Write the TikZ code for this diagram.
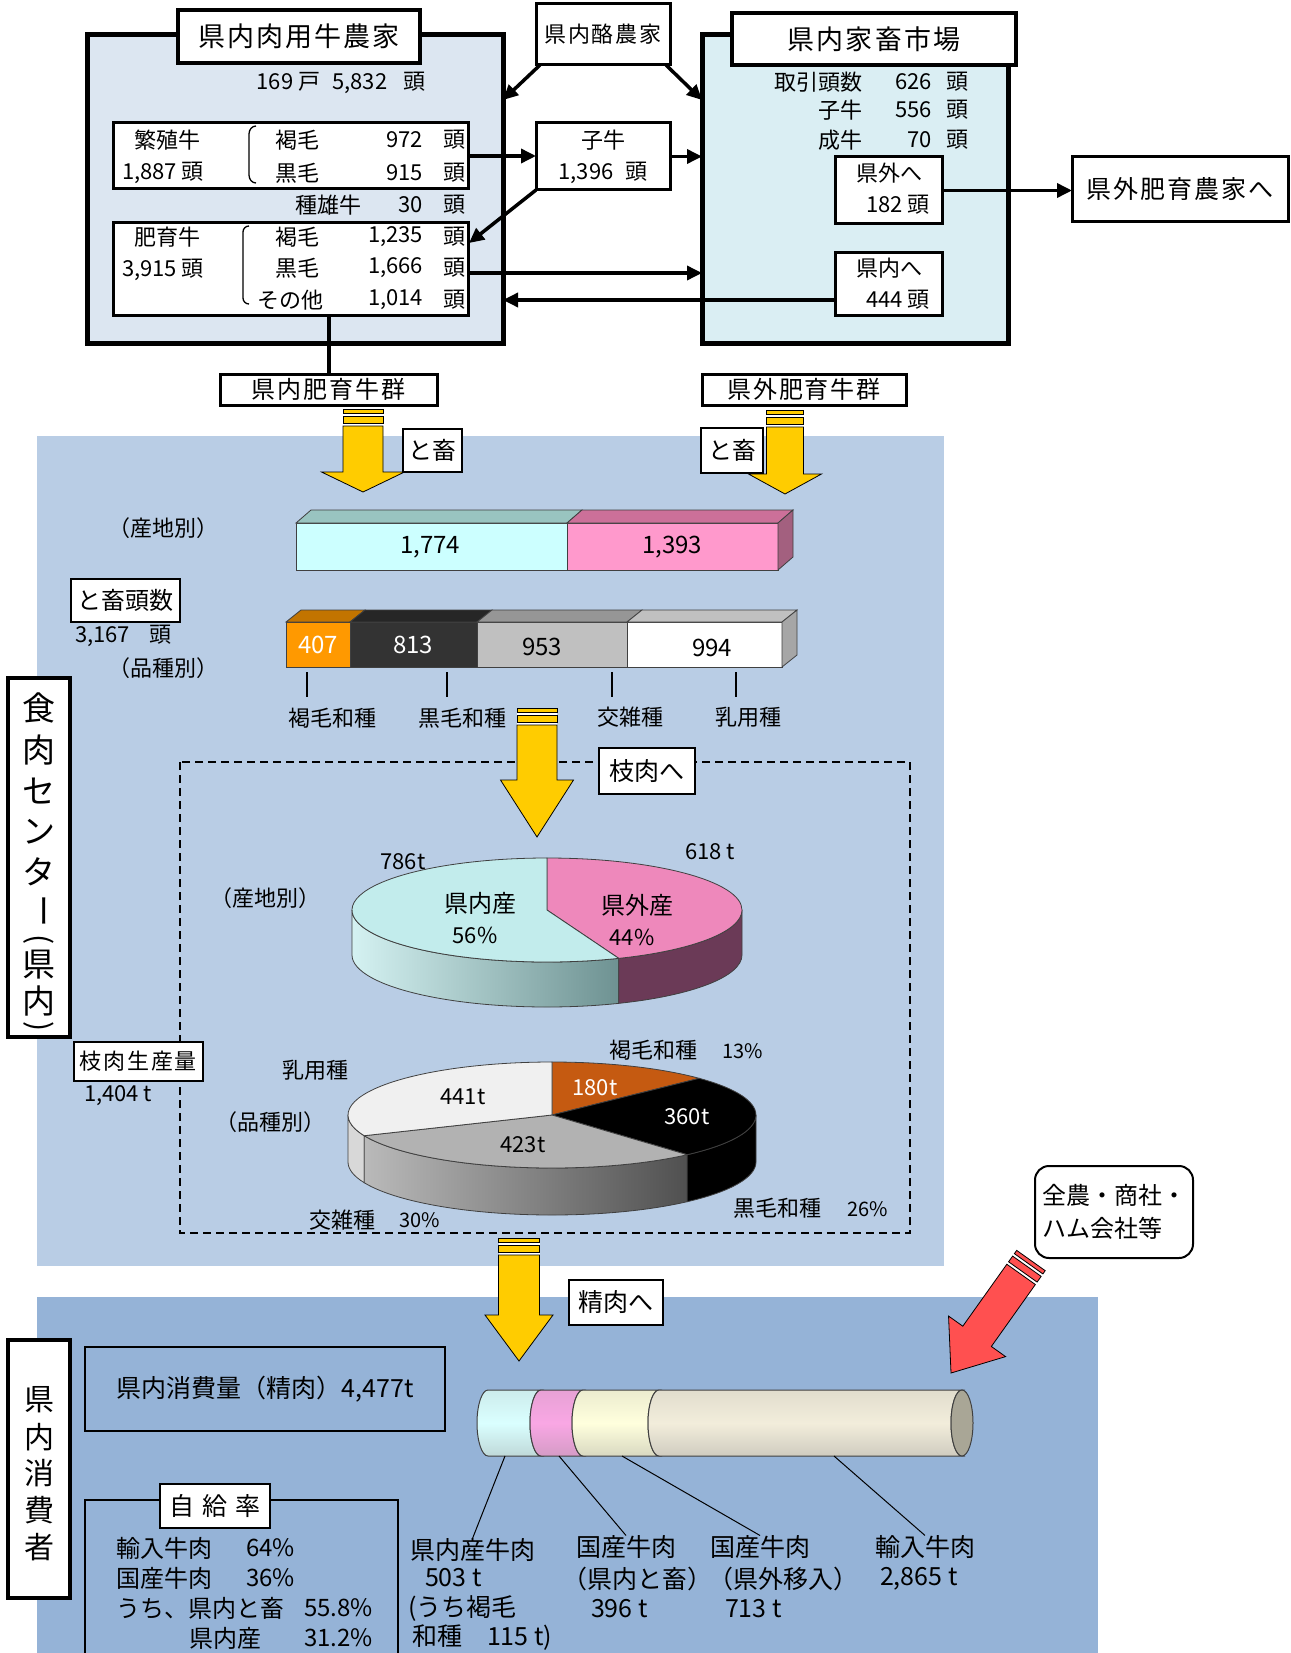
\documentclass[tikz,border=0pt]{standalone}
\usepackage{fontspec}
\setmainfont{Noto Sans CJK JP}
\newfontfamily\spaced{Noto Sans CJK JP}[LetterSpace=8]
\usepackage{graphicx}
\usetikzlibrary{arrows.meta}
\newcommand{\fs}[1]{\fontsize{#1}{#1}\selectfont}
\newcommand{\fatarrow}[5]{%
  \fill[white] ({-#2},{-#5-#3}) rectangle ({#2},{-#5-#3-17});
  \filldraw[fill=#1, draw=black, line width=0.8pt] (0,0) -- ({-#4},{-#5}) -- ({-#2},{-#5}) -- ({-#2},{-#5-#3}) -- ({#2},{-#5-#3}) -- ({#2},{-#5}) -- ({#4},{-#5}) -- cycle;
  \filldraw[fill=#1, draw=black, line width=0.8pt] ({-#2},{-#5-#3-3}) rectangle ({#2},{-#5-#3-10});
  \filldraw[fill=#1, draw=black, line width=0.8pt] ({-#2},{-#5-#3-13}) rectangle ({#2},{-#5-#3-17});
}
\definecolor{farmbg}{HTML}{DCE6F1}
\definecolor{mktbg}{HTML}{DAEEF3}
\definecolor{midbg}{HTML}{B9CDE5}
\definecolor{botbg}{HTML}{95B3D7}
\definecolor{yel}{HTML}{FFCC00}
\definecolor{redarr}{HTML}{FF5050}
\definecolor{edge}{HTML}{404040}
\definecolor{cyF}{HTML}{CCFFFF}
\definecolor{cyT}{HTML}{99C4C0}
\definecolor{pkF}{HTML}{FF99CC}
\definecolor{pkT}{HTML}{CC7099}
\definecolor{pkS}{HTML}{A3607F}
\definecolor{orF}{HTML}{FF9900}
\definecolor{orT}{HTML}{C27400}
\definecolor{bkF}{HTML}{333333}
\definecolor{bkT}{HTML}{262626}
\definecolor{gyF}{HTML}{C0C0C0}
\definecolor{gyT}{HTML}{969696}
\definecolor{whT}{HTML}{C0C0C0}
\definecolor{whS}{HTML}{A6A6A6}
\definecolor{pic}{HTML}{C2ECEC}
\definecolor{pics}{HTML}{6E9292}
\definecolor{pip}{HTML}{EE88BB}
\definecolor{pips}{HTML}{6B3A57}
\definecolor{pio}{HTML}{C55A11}
\definecolor{pig}{HTML}{B2B2B2}
\definecolor{piw}{HTML}{F0F0F0}
\definecolor{cyla}{HTML}{DAFFFF}
\definecolor{cylb}{HTML}{F9A7E4}
\definecolor{cylc}{HTML}{FFFFDD}
\definecolor{cyld}{HTML}{F2EDDB}
\definecolor{cylcap}{HTML}{A9A696}
\begin{document}
\begin{tikzpicture}[x=1pt,y=-1pt,
  every node/.style={inner sep=0pt, outer sep=0pt, font=\fs{22}},
  bx/.style={draw, fill=white, line width=#1},
  bx/.default=3pt,
  bigframe/.style={draw, line width=5pt},
  flowarr/.style={line width=3.5pt, -{Triangle[length=15pt,width=14pt]}},
  edgeline/.style={draw=edge, line width=0.8pt},
  lead/.style={line width=1pt}
]
\useasboundingbox (0,0) rectangle (1290,1653);
\fill[white] (0,0) rectangle (1290,1653);

% ---------------- top: farms and market
\node[bigframe, fill=farmbg, minimum width=416, minimum height=308] (farm) at (295,189) {};
\node[bigframe, fill=mktbg, minimum width=306, minimum height=308] (mkt) at (855,189) {};
\node[bx=4pt, minimum width=242, minimum height=53, font=\fs{27}\spaced] (farmtitle) at (299,36.5) {県内肉用牛農家};
\node[bx=4pt, minimum width=284, minimum height=52, font=\fs{27}\spaced] (mkttitle) at (874,39) {県内家畜市場};
\node (farmtot) at (341,83) {169 戸\hspace{12pt}5,832\hspace{16pt}頭};

\node[bx, minimum width=355, minimum height=66] (breed) at (290.5,156) {};
\node (breedl) at (167,140) {繁殖牛};
\node (breedn) at (163,173) {1,887 頭};
\draw[line width=1.3pt] (256,126) to[out=180,in=90] (249,134) -- (249,175) to[out=270,in=180] (256,183);
\node (b1) at (297,140) {褐毛};
\node[anchor=east] (b1n) at (423,140) {972};
\node (b1u) at (454,140) {頭};
\node (b2) at (297,173) {黒毛};
\node[anchor=east] (b2n) at (423,173) {915};
\node (b2u) at (454,173) {頭};
\node (bull) at (328,205) {種雄牛};
\node[anchor=east] (bulln) at (423,205) {30};
\node (bullu) at (454,205) {頭};

\node[bx, minimum width=355, minimum height=92] (fatten) at (290.5,269) {};
\node (fattenl) at (167,237) {肥育牛};
\node (fattenn) at (163,270) {3,915 頭};
\draw[line width=1.3pt] (249,226) to[out=180,in=90] (243,232) -- (243,298) to[out=270,in=180] (249,304);
\node (f1) at (297,237) {褐毛};
\node[anchor=east] (f1n) at (423,237) {1,235};
\node (f1u) at (454,237) {頭};
\node (f2) at (297,268) {黒毛};
\node[anchor=east] (f2n) at (423,268) {1,666};
\node (f2u) at (454,268) {頭};
\node (f3) at (290,300) {その他};
\node[anchor=east] (f3n) at (423,300) {1,014};
\node (f3u) at (454,300) {頭};

\node[bx, minimum width=134, minimum height=61, font=\fs{22}\spaced] (dairy) at (603,34.5) {県内酪農家};
\node[bx, minimum width=134, minimum height=67] (calf) at (603,156.5) {};
\node (calfl) at (603,140) {子牛};
\node (calfn) at (603,173) {1,396\hspace{12pt}頭};

\node[anchor=east] (m1) at (862,82) {取引頭数};
\node[anchor=east] (m1n) at (932,82) {626};
\node (m1u) at (957,82) {頭};
\node[anchor=east] (m2) at (862,110) {子牛};
\node[anchor=east] (m2n) at (932,110) {556};
\node (m2u) at (957,110) {頭};
\node[anchor=east] (m3) at (862,140) {成牛};
\node[anchor=east] (m3n) at (932,140) {70};
\node (m3u) at (957,140) {頭};

\node[bx, minimum width=107, minimum height=67] (toout) at (888.5,190.5) {};
\node[anchor=west] (tooutl) at (856,173) {県外へ};
\node[anchor=west] (tooutn) at (866,205) {182 頭};
\node[bx, minimum width=107, minimum height=62] (toin) at (888.5,284) {};
\node[anchor=west] (toinl) at (856,268) {県内へ};
\node[anchor=west] (toinn) at (866,300) {444 頭};
\node[bx, minimum width=216, minimum height=65, font=\fs{25}\spaced] (farmout) at (1180,189.5) {県外肥育農家へ};

\coordinate (fin) at (469,243);
\coordinate (kurogeY) at (468,273);
\draw[flowarr] ([xshift=4pt]dairy.south west) -- (farm.east |- 0,100);
\draw[flowarr] ([xshift=-4pt]dairy.south east) -- (mkt.west |- 0,100);
\draw[flowarr] (breed.east) -- (calf.west |- breed.east);
\draw[flowarr] (calf.east) -- (mkt.west |- calf.east);
\draw[flowarr] (calf.south west) -- (fin);
\draw[flowarr] (kurogeY) -- (mkt.west |- kurogeY);
\draw[flowarr] (toin.west |- f3) -- (farm.east |- f3);
\draw[flowarr] (toout.east) -- (farmout.west |- toout.east);

% ---------------- middle: meat center
\fill[midbg] (37,436) rectangle (944,1266);
\fill[botbg] (37,1297) rectangle (1098,1653);

\node[bx, minimum width=217, minimum height=31, font=\fs{24}\spaced] (ingroup) at (328.5,389.5) {県内肥育牛群};
\node[bx, minimum width=204, minimum height=31, font=\fs{24}\spaced] (outgroup) at (804,389.5) {県外肥育牛群};
\draw[line width=4pt] (fatten.south -| ingroup.north) -- (ingroup.north);

\begin{scope}[shift={(363,492)}] \fatarrow{yel}{20}{46}{41.5}{20} \end{scope}
\begin{scope}[shift={(785,494)}] \fatarrow{yel}{18.5}{47}{36.5}{20} \end{scope}
\node[bx=2pt, minimum width=59, minimum height=43, font=\fs{24}] (todo1) at (432.5,450.5) {と畜};
\node[bx=2pt, minimum width=62, minimum height=45, font=\fs{24}] (todo2) at (732,450.5) {と畜};

\node (orig1) at (163,528) {（産地別）};
\node[bx=2pt, minimum width=109, minimum height=43, font=\fs{24}] (headcnt) at (125.5,600.5) {と畜頭数};
\node[anchor=west] (headn) at (75,636) {3,167\hspace{20pt}頭};
\node (breed1) at (163,668) {（品種別）};

% bar 1
\filldraw[edgeline, fill=cyF] (296,523) rectangle (567,570);
\filldraw[edgeline, fill=cyT] (296,523) -- (311,510) -- (582,510) -- (567,523) -- cycle;
\filldraw[edgeline, fill=pkF] (567,523) rectangle (778,570);
\filldraw[edgeline, fill=pkT] (567,523) -- (582,510) -- (793,510) -- (778,523) -- cycle;
\filldraw[edgeline, fill=pkS] (778,523) -- (793,510) -- (793,557) -- (778,570) -- cycle;
\node[font=\fs{24}] (v1774) at (430,547) {1,774};
\node[font=\fs{24}] (v1393) at (672,547) {1,393};

% bar 2
\filldraw[edgeline, fill=orF] (286,622) rectangle (350,667);
\filldraw[edgeline, fill=orT] (286,622) -- (301,610) -- (365,610) -- (350,622) -- cycle;
\filldraw[edgeline, fill=bkF] (350,622) rectangle (477,667);
\filldraw[edgeline, fill=bkT] (350,622) -- (365,610) -- (492,610) -- (477,622) -- cycle;
\filldraw[edgeline, fill=gyF] (477,622) rectangle (627,667);
\filldraw[edgeline, fill=gyT] (477,622) -- (492,610) -- (642,610) -- (627,622) -- cycle;
\filldraw[edgeline, fill=white] (627,622) rectangle (782,667);
\filldraw[edgeline, fill=whT] (627,622) -- (642,610) -- (797,610) -- (782,622) -- cycle;
\filldraw[edgeline, fill=whS] (782,622) -- (797,610) -- (797,655) -- (782,667) -- cycle;
\node[font=\fs{24}, text=white] (v407) at (318,645) {407};
\node[font=\fs{24}, text=white] (v813) at (413,645) {813};
\node[font=\fs{24}] (v953) at (542,647) {953};
\node[font=\fs{24}] (v994) at (712,648) {994};
\draw[line width=2.5pt] (307,672) -- (307,697);
\draw[line width=2.5pt] (447,672) -- (447,697);
\draw[line width=2.5pt] (612,672) -- (612,697);
\draw[line width=2.5pt] (736,672) -- (736,697);
\node (k1) at (332,718) {褐毛和種};
\node (k2) at (462,718) {黒毛和種};
\node (k3) at (630,717) {交雑種};
\node (k4) at (748,717) {乳用種};

% dashed carcass box
\draw[line width=2pt, dash pattern=on 8pt off 5pt] (180,762) rectangle (910,1233);
\begin{scope}[shift={(537,837)}] \fatarrow{yel}{20}{55}{36.5}{57} \end{scope}
\node[bx=2pt, minimum width=96, minimum height=46, font=\fs{25}] (toedaniku) at (647,771) {枝肉へ};

% pie 1
\path[draw=edge, line width=0.8pt, left color=pic!70!white, right color=pics] (547,910) ++(180:195pt and 52pt) arc[start angle=180,end angle=291.6,x radius=195pt,y radius=52pt] -- ++(0,45) arc[start angle=291.6,end angle=180,x radius=195pt,y radius=52pt] -- cycle;
\filldraw[edgeline, fill=pips] (547,910) ++(291.6:195pt and 52pt) arc[start angle=291.6,end angle=360,x radius=195pt,y radius=52pt] -- ++(0,45) arc[start angle=360,end angle=291.6,x radius=195pt,y radius=52pt] -- cycle;
\filldraw[edgeline, fill=pip] (547,910) -- ++(90:195pt and 52pt) arc[start angle=90,end angle=-68.4,x radius=195pt,y radius=52pt] -- cycle;
\filldraw[edgeline, fill=pic] (547,910) -- ++(-68.4:195pt and 52pt) arc[start angle=-68.4,end angle=-270,x radius=195pt,y radius=52pt] -- cycle;
\node[font=\fs{24}] (p1a) at (480,903) {県内産};
\node (p1ap) at (475,935) {56\%};
\node[font=\fs{24}] (p1b) at (637,905) {県外産};
\node (p1bp) at (632,937) {44\%};
\node (p1at) at (403,862) {786t};
\node (p1bt) at (710,852) {618 t};
\node (orig2) at (265,898) {（産地別）};

% pie 2
\filldraw[edgeline, fill=piw!90!black] (552,1115) ++(180:204pt and 53pt) arc[start angle=180,end angle=203,x radius=204pt,y radius=53pt] -- ++(0,47) arc[start angle=203,end angle=180,x radius=204pt,y radius=53pt] -- cycle;
\path[draw=edge, line width=0.8pt, left color=pig!90!white, right color=pig!45!black] (552,1115) ++(203:204pt and 53pt) arc[start angle=203,end angle=311.5,x radius=204pt,y radius=53pt] -- ++(0,47) arc[start angle=311.5,end angle=203,x radius=204pt,y radius=53pt] -- cycle;
\filldraw[edgeline, fill=black] (552,1115) ++(311.5:204pt and 53pt) arc[start angle=311.5,end angle=360,x radius=204pt,y radius=53pt] -- ++(0,47) arc[start angle=360,end angle=311.5,x radius=204pt,y radius=53pt] -- cycle;
\filldraw[edgeline, fill=pio] (552,1115) -- ++(90:204pt and 53pt) arc[start angle=90,end angle=43.8,x radius=204pt,y radius=53pt] -- cycle;
\filldraw[edgeline, fill=black] (552,1115) -- ++(43.8:204pt and 53pt) arc[start angle=43.8,end angle=-48.5,x radius=204pt,y radius=53pt] -- cycle;
\filldraw[edgeline, fill=pig] (552,1115) -- ++(-48.5:204pt and 53pt) arc[start angle=-48.5,end angle=-157,x radius=204pt,y radius=53pt] -- cycle;
\filldraw[edgeline, fill=piw] (552,1115) -- ++(-157:204pt and 53pt) arc[start angle=-157,end angle=-270,x radius=204pt,y radius=53pt] -- cycle;
\node (p2w) at (463,1097) {441t};
\node (p2g) at (523,1145) {423t};
\node[text=white] (p2o) at (595,1088) {180t};
\node[text=white] (p2b) at (687,1117) {360t};
\node (q1) at (315,1070) {乳用種};
\node (breed2) at (270,1122) {（品種別）};
\node (q2) at (653,1050) {褐毛和種};
\node[font=\fs{20}] (q2p) at (743,1051) {13\%};
\node (q3) at (777,1208) {黒毛和種};
\node[font=\fs{20}] (q3p) at (868,1209) {26\%};
\node (q4) at (342,1220) {交雑種};
\node[font=\fs{20}] (q4p) at (420,1220) {30\%};

\node[bx=2pt, minimum width=129, minimum height=39, font=\fs{22}\spaced] (carcass) at (138.5,1061.5) {枝肉生産量};
\node[anchor=west] (carcassn) at (84,1096) {1,404 t};

\node[bx=4pt, minimum width=62, minimum height=359] (meatctr) at (39,857.5) {};
\foreach \ch/\yy [count=\i] in {食/708, 肉/750, セ/791, ン/832, タ/872, 県/965, 内/1001}
  \node[font=\fs{33}] (vc\i) at (39,\yy) {\ch};
\node[font=\fs{33}, rotate=-90] (vbar) at (39,911) {ー};
\node[font=\fs{30}, rotate=-90] (vpl) at (39,940) {(};
\node[font=\fs{30}, rotate=-90] (vpr) at (39,1027) {)};

% ---------------- bottom: consumers
\begin{scope}[shift={(519,1361)}] \fatarrow{yel}{20.5}{60}{34}{46} \end{scope}
\node[bx=2pt, minimum width=94, minimum height=45, font=\fs{25}] (toseiniku) at (616,1302.5) {精肉へ};

\node[bx=4pt, minimum width=62, minimum height=258] (consumer) at (39,1469) {};
\foreach \ch/\yy [count=\i] in {県/1400, 内/1437, 消/1473, 費/1510, 者/1547}
  \node[font=\fs{30}] (cc\i) at (39,\yy) {\ch};

\node[draw, line width=2pt, minimum width=360, minimum height=84, font=\fs{25}] (consume) at (265,1389) {県内消費量（精肉）4,477t};

\node[draw, line width=2pt, minimum width=313, minimum height=180, anchor=north west] (selfbox) at (85,1500) {};
\node[bx=2pt, minimum width=110, minimum height=44, font=\fs{25}] (selftitle) at (215,1506) {自\hspace{8pt}給\hspace{8pt}率};
\node[anchor=west, font=\fs{24}] (s1) at (116,1548) {輸入牛肉};
\node[anchor=west, font=\fs{24}] (s1v) at (246,1548) {64\%};
\node[anchor=west, font=\fs{24}] (s2) at (116,1578) {国産牛肉};
\node[anchor=west, font=\fs{24}] (s2v) at (246,1578) {36\%};
\node[anchor=west, font=\fs{24}] (s3) at (116,1608) {うち、県内と畜};
\node[anchor=west, font=\fs{24}] (s3v) at (304,1608) {55.8\%};
\node[anchor=west, font=\fs{24}] (s4) at (189,1638) {県内産};
\node[anchor=west, font=\fs{24}] (s4v) at (304,1638) {31.2\%};

% cylinder
\foreach \xa/\xb/\colr in {488/541/cyla, 541/583/cylb, 583/659/cylc, 659/962/cyld}
  \path[draw=edge, line width=1pt, top color=\colr!85!gray, bottom color=\colr!70!gray, middle color=\colr]
    (\xa,1390) arc[start angle=90,end angle=270,x radius=11pt,y radius=33pt] -- (\xb,1456) arc[start angle=270,end angle=90,x radius=11pt,y radius=33pt] -- cycle;
\filldraw[fill=cylcap, draw=edge, line width=1pt] (962,1423) ellipse[x radius=11pt, y radius=33pt];
\coordinate (cy1) at (505,1456);
\coordinate (cy2) at (559,1456);
\coordinate (cy3) at (622,1456);
\coordinate (cy4) at (834,1456);

\node[anchor=west, font=\fs{25}] (lbl1) at (410,1550) {県内産牛肉};
\node[anchor=west, font=\fs{25}] (lbl1b) at (425,1578) {503 t};
\node[anchor=west, font=\fs{25}] (lbl1c) at (408,1608) {(うち褐毛};
\node[anchor=west, font=\fs{25}] (lbl1d) at (412,1638) {和種　115 t)};
\node[anchor=west, font=\fs{25}] (lbl2) at (576,1547) {国産牛肉};
\node[anchor=west, font=\fs{25}] (lbl2b) at (562,1579) {（県内と畜）};
\node[anchor=west, font=\fs{25}] (lbl2c) at (591,1609) {396 t};
\node[anchor=west, font=\fs{25}] (lbl3) at (710,1547) {国産牛肉};
\node[anchor=west, font=\fs{25}] (lbl3b) at (708,1579) {（県外移入）};
\node[anchor=west, font=\fs{25}] (lbl3c) at (725,1609) {713 t};
\node[anchor=west, font=\fs{25}] (lbl4) at (875,1547) {輸入牛肉};
\node[anchor=west, font=\fs{25}] (lbl4b) at (880,1579) {2,865 t};
\draw[lead] (cy1) -- (lbl1.north);
\draw[lead] (cy2) -- (lbl2.north);
\draw[lead] (cy3) -- (lbl3.north);
\draw[lead] (cy4) -- (lbl4.north);

% red import arrow and source box
\begin{scope}[shift={(951,1373)}, rotate=-35.4] \fatarrow{redarr}{17.5}{76}{35}{45} \end{scope}
\node[draw, line width=2pt, fill=white, rounded corners=14pt, minimum width=158, minimum height=92, align=left, font=\fontsize{24}{33}\selectfont] (zennou) at (1114,1212) {全農・商社・\\ハム会社等};
\end{tikzpicture}
\end{document}
